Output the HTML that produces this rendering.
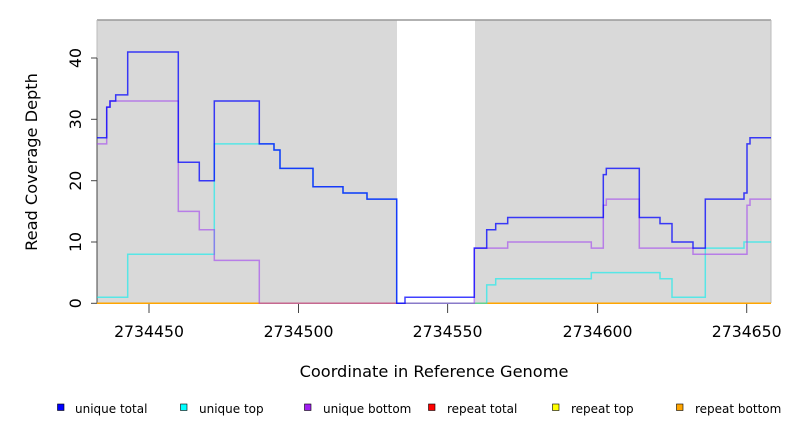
<!DOCTYPE html>
<html><head><style>body{margin:0;background:#fff}svg{display:block}text{font-family:"DejaVu Sans","Liberation Sans",sans-serif}</style></head><body>
<svg width="792" height="432" xmlns="http://www.w3.org/2000/svg">
<rect x="97" y="20" width="300" height="283" fill="#d9d9d9"/>
<rect x="475" y="20" width="296" height="283" fill="#d9d9d9"/>
<line x1="97" y1="20" x2="771" y2="20" stroke="#999" stroke-width="1.5"/>
<line x1="771" y1="20" x2="771" y2="303" stroke="#bbb" stroke-width="1"/>
<line x1="97" y1="20" x2="97" y2="303" stroke="#bbb" stroke-width="1"/>
<g stroke="#444" stroke-width="1">
<line x1="97" y1="58" x2="97" y2="303.3"/>
<line x1="91" y1="303.3" x2="97" y2="303.3"/><line x1="91" y1="242" x2="97" y2="242"/><line x1="91" y1="180.7" x2="97" y2="180.7"/><line x1="91" y1="119.3" x2="97" y2="119.3"/><line x1="91" y1="58" x2="97" y2="58"/>
<line x1="149" y1="303" x2="149" y2="313"/><line x1="298.5" y1="303" x2="298.5" y2="313"/><line x1="447.6" y1="303" x2="447.6" y2="313"/><line x1="597.6" y1="303" x2="597.6" y2="313"/><line x1="746.7" y1="303" x2="746.7" y2="313"/>
</g>
<g font-size="15.7" fill="#000" text-anchor="middle">
<text transform="translate(76,303.3) rotate(-90)" dy="5">0</text>
<text transform="translate(76,242) rotate(-90)" dy="5">10</text>
<text transform="translate(76,180.7) rotate(-90)" dy="5">20</text>
<text transform="translate(76,119.3) rotate(-90)" dy="5">30</text>
<text transform="translate(76,58) rotate(-90)" dy="5">40</text>
<text x="149" y="337">2734450</text><text x="298.5" y="337">2734500</text><text x="447.6" y="337">2734550</text><text x="597.6" y="337">2734600</text><text x="746.7" y="337">2734650</text>
</g>
<g font-size="16.2" fill="#000" text-anchor="middle">
<text x="434" y="377">Coordinate in Reference Genome</text>
<text transform="translate(37,162) rotate(-90)">Read Coverage Depth</text>
</g>
<g fill="none" stroke-width="1.5">
<polyline stroke="#f00" points="97,303.3 771,303.3"/>
<polyline stroke="#ffa500" points="97,303.3 771,303.3"/>
<polyline stroke="#00eeee" stroke-opacity="0.6" points="97,297.2 127.7,297.2 127.7,254.3 214.3,254.3 214.3,143.9 259.3,143.9 259.3,143.9 274,143.9 274,150 280,150 280,168.4 313,168.4 313,186.8 343,186.8 343,193 367,193 367,199.1 396.7,199.1 396.7,303.3 486.7,303.3 486.7,284.9 495.7,284.9 495.7,278.8 591.3,278.8 591.3,272.6 660,272.6 660,278.8 672,278.8 672,297.2 705.3,297.2 705.3,248.1 744,248.1 744,242 771,242"/>
<polyline stroke="#a040f0" stroke-opacity="0.6" points="97,143.9 106.7,143.9 106.7,107.1 110,107.1 110,101 178.3,101 178.3,211.4 199.3,211.4 199.3,229.7 214.3,229.7 214.3,260.4 259.3,260.4 259.3,303.3 474.3,303.3 474.3,248.1 507.7,248.1 507.7,242 591.3,242 591.3,248.1 603.3,248.1 603.3,205.2 606.3,205.2 606.3,199.1 639.3,199.1 639.3,248.1 693,248.1 693,254.3 747,254.3 747,205.2 750,205.2 750,199.1 771,199.1"/>
<polyline stroke="#0000ff" stroke-opacity="0.75" points="97,137.8 106.7,137.8 106.7,107.1 110,107.1 110,101 115.7,101 115.7,94.9 127.7,94.9 127.7,52 178.3,52 178.3,162.3 199.3,162.3 199.3,180.7 214.3,180.7 214.3,101 259.3,101 259.3,143.9 274,143.9 274,150 280,150 280,168.4 313,168.4 313,186.8 343,186.8 343,193 367,193 367,199.1 396.7,199.1 396.7,303.3 405,303.3 405,297.2 474.3,297.2 474.3,248.1 486.7,248.1 486.7,229.7 495.7,229.7 495.7,223.6 507.7,223.6 507.7,217.5 603.3,217.5 603.3,174.6 606.3,174.6 606.3,168.4 639.3,168.4 639.3,217.5 660,217.5 660,223.6 672,223.6 672,242 693,242 693,248.1 705.3,248.1 705.3,199.1 744,199.1 744,193 747,193 747,143.9 750,143.9 750,137.8 771,137.8"/>
</g>
<g stroke="#000" stroke-width="0.6">
<rect x="57.5" y="404" width="6.5" height="6.5" fill="#0000ff"/>
<rect x="180.5" y="404" width="6.5" height="6.5" fill="#00ffff"/>
<rect x="304.5" y="404" width="6.5" height="6.5" fill="#a020f0"/>
<rect x="428.5" y="404" width="6.5" height="6.5" fill="#ff0000"/>
<rect x="552.5" y="404" width="6.5" height="6.5" fill="#ffff00"/>
<rect x="676.5" y="404" width="6.5" height="6.5" fill="#ffa500"/>
</g>
<g font-size="12" fill="#000">
<text x="75" y="413">unique total</text><text x="199" y="413">unique top</text><text x="323" y="413">unique bottom</text><text x="447" y="413">repeat total</text><text x="571" y="413">repeat top</text><text x="695" y="413">repeat bottom</text>
</g>
</svg>
</body></html>
